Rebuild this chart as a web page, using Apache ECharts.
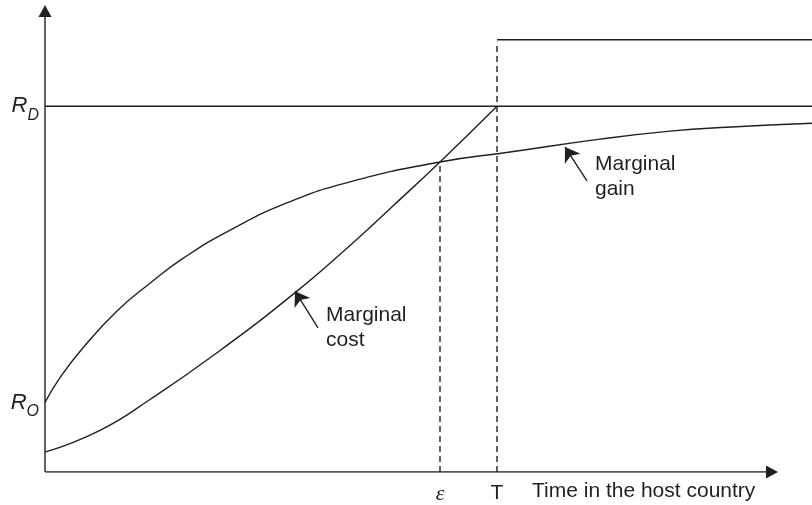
<!DOCTYPE html>
<html>
<head>
<meta charset="utf-8">
<script src="https://cdn.jsdelivr.net/npm/echarts@6/dist/echarts.min.js"></script>
<style>
html,body{margin:0;padding:0;background:#fff;}
#c{width:812px;height:505px;}
</style>
</head>
<body>
<div id="c"></div>
<script>
// Values (abstract diagram units)
const gainX = [0, 15, 38, 72, 105, 138, 188, 245, 305, 395, 465, 555, 625, 682, 767];
const gainY = [70, 95, 125, 162, 190, 215, 245, 272, 292, 312, 322, 335, 343, 347, 351];
const costX = [0, 55, 105, 172, 252, 305, 345, 395, 452];
const costY = [20, 42, 73, 120, 182, 228, 265, 312, 368];
const RD = 368, RO = 70, upperLevel = 435;
const T = 452, EPS = 395;
const xMax = 767, yMax = 475;
const xAxisEnd = 733, yAxisEnd = 470;
const yTickValues = [RO, RD];
const yTickLabels = {70: '{r|R}{s|O}', 368: '{r|R}{s|D}'};
const xTickValues = [EPS, T];
const xTickLabels = {395: '{e|ε}', 452: '{t|T}'};
const costArrow = [[273, 145], [250, 182]];
const gainArrow = [[542, 293], [520, 327]];
const costLabelPos = [281, 157];
const gainLabelPos = [550, 309];
const timeLabelPos = [487, 0];

const INK = '#231f20';
const FONT = 'Liberation Sans, Arial, Helvetica, sans-serif';

const pairs = (xs, ys) => xs.map((x, i) => [x, ys[i]]);

const chart = echarts.init(document.getElementById('c'));
const plainLine = (data, dashed, extra) => Object.assign({
  type: 'line', data, symbol: 'none', silent: true, animation: false,
  lineStyle: {color: INK, width: 1.4, type: dashed ? [6, 4] : 'solid'}
}, extra || {});
const arrowLines = (coords) => ({
  type: 'lines', coordinateSystem: 'cartesian2d', silent: true, animation: false,
  symbol: ['none', 'arrow'], symbolSize: 14,
  lineStyle: {color: INK, width: 1.4, opacity: 1},
  itemStyle: {color: INK},
  data: [{coords}]
});
const axisArrow = (pos, rot) => ({
  type: 'scatter', data: [pos], symbol: 'triangle', symbolSize: [13, 12], symbolRotate: rot,
  silent: true, animation: false, itemStyle: {color: INK, opacity: 1}
});
const textPoint = (pos, text, offset) => ({
  type: 'scatter', data: [pos], symbolSize: 0, silent: true, animation: false,
  itemStyle: {opacity: 1},
  label: {show: true, position: 'right', distance: 0, offset, formatter: text,
    color: INK, fontFamily: FONT, fontSize: 21, lineHeight: 25, align: 'left', opacity: 1}
});

chart.setOption({
  animation: false,
  grid: {left: 45, right: 0, top: 0, bottom: 30, containLabel: false},
  xAxis: {
    type: 'value', min: 0, max: xMax,
    axisLine: {show: false}, axisTick: {show: false}, splitLine: {show: false},
    axisLabel: {
      customValues: xTickValues, margin: 11,
      formatter: v => xTickLabels[v] || '',
      rich: {
        e: {fontFamily: 'Liberation Serif, Times New Roman, serif', fontStyle: 'italic', fontSize: 22, color: INK},
        t: {fontFamily: FONT, fontSize: 21, color: INK}
      }
    }
  },
  yAxis: {
    type: 'value', min: 0, max: yMax,
    axisLine: {show: false}, axisTick: {show: false}, splitLine: {show: false},
    axisLabel: {
      customValues: yTickValues, margin: 6,
      formatter: v => yTickLabels[v] || '',
      rich: {
        r: {fontFamily: FONT, fontStyle: 'italic', fontSize: 22, color: INK, verticalAlign: 'bottom'},
        s: {fontFamily: FONT, fontStyle: 'italic', fontSize: 16, color: INK, verticalAlign: 'bottom', padding: [0, 0, -6, 0]}
      }
    }
  },
  series: [
    plainLine([[0, 0], [0, yAxisEnd - 8]]),
    plainLine([[0, 0], [xAxisEnd - 8, 0]]),
    axisArrow([0, yAxisEnd - 6], 0),
    axisArrow([xAxisEnd - 6, 0], -90),
    plainLine([[0, RD], [xMax, RD]]),
    plainLine([[T, upperLevel], [xMax, upperLevel]]),
    plainLine([[T, 0], [T, upperLevel - 2]], true),
    plainLine([[EPS, 0], [EPS, costY[costY.length - 2]]], true),
    plainLine(pairs(gainX, gainY), false, {smooth: 0.5}),
    plainLine(pairs(costX, costY), false, {smooth: 0.5}),
    arrowLines(costArrow),
    arrowLines(gainArrow),
    textPoint(costLabelPos, 'Marginal\ncost', [0, 12]),
    textPoint(gainLabelPos, 'Marginal\ngain', [0, 12]),
    textPoint(timeLabelPos, 'Time in the host country', [0, 19])
  ]
});
</script>
</body>
</html>
